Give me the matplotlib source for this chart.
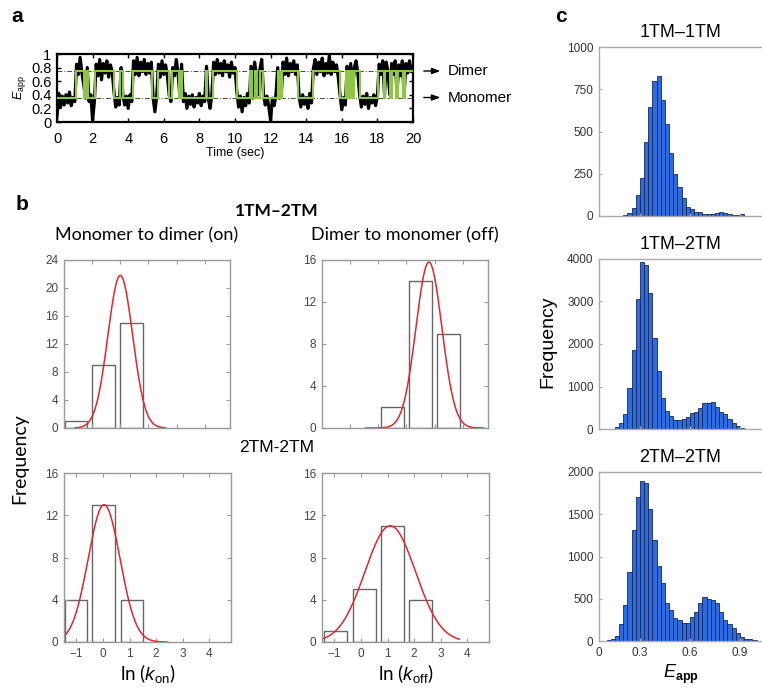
import numpy as np
import matplotlib.pyplot as plt

plt.rcParams['font.family'] = ['Liberation Sans', 'DejaVu Sans']
plt.rcParams['mathtext.fontset'] = 'custom'
plt.rcParams['mathtext.it'] = 'Liberation Sans:italic'
plt.rcParams['mathtext.rm'] = 'Liberation Sans'
plt.rcParams['mathtext.bf'] = 'Liberation Sans:bold'

# ---------------- a: single-molecule FRET trace ----------------
trace_dt = 0.1
e_app = [
    0.08, 0.42, 0.22, 0.38, 0.25, 0.40, 0.28, 0.44, 0.24, 0.36,
    0.30, 0.85, 0.70, 0.95, 0.72, 0.55, 0.35, 0.80, 0.30, 0.40,
    0.02, 0.30, 0.85, 0.68, 0.92, 0.62, 0.86, 0.72, 0.90, 0.66,
    0.84, 0.74, 0.45, 0.22, 0.36, 0.25, 0.80, 0.40, 0.25, 0.38,
    0.20, 0.40, 0.30, 0.90, 0.70, 0.95, 0.68, 0.88, 0.74, 0.92,
    0.70, 0.86, 0.72, 0.88, 0.35, 0.15, 0.38, 0.85, 0.66, 0.90,
    0.70, 0.84, 0.68, 0.40, 0.30, 0.80, 0.68, 0.92, 0.72, 0.38,
    0.85, 0.30, 0.42, 0.20, 0.38, 0.26, 0.40, 0.22, 0.36, 0.28,
    0.42, 0.24, 0.38, 0.30, 0.82, 0.35, 0.20, 0.40, 0.88, 0.70,
    0.92, 0.72, 0.86, 0.68, 0.90, 0.74, 0.84, 0.66, 0.88, 0.72,
    0.80, 0.45, 0.22, 0.38, 0.15, 0.36, 0.24, 0.42, 0.28, 0.82,
    0.35, 0.88, 0.70, 0.40, 0.78, 0.92, 0.42, 0.25, 0.38, 0.22,
    0.02, 0.35, 0.24, 0.40, 0.80, 0.35, 0.40, 0.88, 0.70, 0.94,
    0.68, 0.86, 0.74, 0.90, 0.70, 0.84, 0.38, 0.22, 0.40, 0.26,
    0.36, 0.20, 0.42, 0.28, 0.78, 0.92, 0.70, 0.88, 0.74, 0.94,
    0.68, 0.86, 0.72, 0.98, 0.70, 0.88, 0.74, 0.84, 0.66, 0.40,
    0.18, 0.36, 0.25, 0.82, 0.38, 0.86, 0.40, 0.80, 0.90, 0.72,
    0.40, 0.22, 0.38, 0.26, 0.42, 0.20, 0.36, 0.28, 0.40, 0.24,
    0.38, 0.85, 0.70, 0.90, 0.40, 0.88, 0.72, 0.40, 0.86, 0.70,
    0.90, 0.42, 0.84, 0.68, 0.90, 0.40, 0.86, 0.72, 0.90, 0.74,
    0.82,
]
# idealised two-state fit: switching times (s), starting in the monomer state
switch_times = [1.08, 1.50, 1.62, 1.72, 2.15, 3.20, 3.55, 3.70, 4.25, 5.35,
                5.65, 6.30, 6.45, 6.85, 6.95, 7.05, 8.35, 8.45, 8.75, 10.10,
                10.85, 10.95, 11.10, 11.25, 11.40, 11.60, 12.40, 12.50, 12.65,
                13.55, 14.40, 15.90, 16.25, 16.35, 16.45, 16.60, 16.70, 17.00,
                18.05, 18.35, 18.45, 18.70, 18.80, 19.05, 19.15, 19.45, 19.55]
monomer_level = 0.36
dimer_level = 0.75
trace_end = 20

# ---------------- b: rate histograms with gaussian fits ----------------
kon_12_centers = [-0.575, 0.41, 1.41]
kon_12_counts = [1, 9, 15]
koff_12_centers = [1.50, 2.49, 3.50]
koff_12_counts = [2, 14, 9]
kon_22_centers = [-1.02, 0.03, 1.09]
kon_22_counts = [4, 13, 4]
koff_22_centers = [-0.95, 0.12, 1.18, 2.24]
koff_22_counts = [1, 5, 11, 4]
# (amplitude, mean, sigma, x_from, x_to)
kon_12_fit = (21.8, 1.00, 0.44, -0.6, 2.6)
koff_12_fit = (15.8, 2.80, 0.46, 0.55, 4.75)
kon_22_fit = (13.0, 0.04, 0.60, -1.47, 2.4)
koff_22_fit = (11.0, 1.10, 0.95, -1.42, 3.7)

# ---------------- c: E_app histograms ----------------
bin_w = 0.025
tm11_start = 0.2
tm11_counts = [5, 20, 45, 124, 222, 437, 646, 800, 827, 685, 547, 370, 248, 173,
               108, 51, 39, 26, 26, 14, 14, 14, 18, 24, 20, 14, 8, 8, 14]
tm12_start = 0.15
tm12_counts = [40, 140, 350, 957, 1870, 3060, 3930, 3850, 3200, 2140, 1365, 720,
               431, 314, 204, 220, 243, 275, 376, 408, 494, 612, 612, 627, 510,
               400, 360, 243, 141, 78, 31, 10]
tm22_start = 0.1
tm22_counts = [10, 20, 63, 198, 427, 822, 1308, 1704, 1893, 1865, 1565, 1198, 889,
               684, 455, 368, 277, 249, 210, 210, 289, 340, 447, 526, 498, 486,
               447, 344, 249, 198, 150, 99, 51, 28, 20, 8]

W, H = 762, 689
fig = plt.figure(figsize=(W / 100, H / 100), dpi=100)


def box(left, top, right, bottom):
    return [left / W, 1 - bottom / H, (right - left) / W, (bottom - top) / H]


def at(x, y):
    return x / W, 1 - y / H


# ---- panel a
ax = fig.add_axes(box(57, 54, 413, 122))
ax.axhline(dimer_level, color='#444444', lw=0.7, ls=(0, (5, 2, 1, 2)), zorder=1)
ax.axhline(monomer_level, color='#444444', lw=0.7, ls=(0, (5, 2, 1, 2)), zorder=1)
t = np.arange(len(e_app)) * trace_dt
ax.plot(t, e_app, color='black', lw=2.3, zorder=2)
edges = [0] + switch_times + [trace_end]
levels = [monomer_level if i % 2 == 0 else dimer_level for i in range(len(edges) - 1)]
ax.stairs(levels, edges, baseline=None, color='#8dc63f', lw=1.5, zorder=3)
ax.set_xlim(0, 20)
ax.set_ylim(0, 1)
ax.set_xticks(range(0, 21, 2))
ax.set_yticks([0, 0.2, 0.4, 0.6, 0.8, 1])
ax.set_yticklabels(['0', '0.2', '0.4', '0.6', '0.8', '1'])
ax.tick_params(direction='in', length=3, width=1, top=True, right=True,
               labelsize=10.5)
ax.tick_params(axis='x', pad=7)
ax.tick_params(axis='y', pad=4)
for s in ax.spines.values():
    s.set_linewidth(1.6)
ax.set_xlabel('Time (sec)', fontsize=9, labelpad=1)
ax.set_ylabel(r'$E_{\mathrm{app}}$', fontsize=9, labelpad=2)
for lvl, name in [(dimer_level, 'Dimer'), (monomer_level, 'Monomer')]:
    ax.annotate('', xy=(21.7, lvl), xytext=(20.45, lvl), annotation_clip=False,
                arrowprops=dict(arrowstyle='-|>,head_length=0.5,head_width=0.18',
                                color='black', lw=1.0))
    ax.text(21.95, lvl, name, fontsize=11, va='center', ha='left')

for letter, (x, y) in [('a', (17, 17)), ('b', (22, 205)), ('c', (561, 17))]:
    fig.text(*at(x, y), letter, fontsize=15, weight='bold', ha='center', va='center')

# ---- panel b
label_font = ['Lato', 'DejaVu Sans']


def rate_panel(rect, centers, counts, width, fit, xlim, xticks, ymax, show_x):
    a = fig.add_axes(rect)
    a.bar(centers, counts, width=width, facecolor='white', edgecolor='#666666', lw=1.0)
    amp, mu, sig, x0, x1 = fit
    xs = np.linspace(x0, x1, 200)
    a.plot(xs, amp * np.exp(-0.5 * ((xs - mu) / sig) ** 2), color='#e3262c', lw=1.1)
    a.set_xlim(*xlim)
    a.set_ylim(0, ymax)
    a.set_xticks(xticks)
    a.set_yticks(range(0, ymax + 1, 4))
    a.tick_params(direction='in', length=3, color='#999999', top=True, right=True,
                  labelsize=8.5, labelcolor='#444444', pad=4)
    if not show_x:
        a.set_xticklabels([])
    for s in a.spines.values():
        s.set_color('#999999')
        s.set_linewidth(1.0)
    return a


top_xlim, top_ticks = (-1.0, 4.9), [0, 1, 2, 3, 4]
bot_xlim, bot_ticks = (-1.47, 4.82), [-1, 0, 1, 2, 3, 4]
rate_panel(box(64, 260, 230, 428), kon_12_centers, kon_12_counts, 0.81, kon_12_fit,
           top_xlim, top_ticks, 24, False)
rate_panel(box(322, 260, 488, 428), koff_12_centers, koff_12_counts, 0.81, koff_12_fit,
           top_xlim, top_ticks, 16, False)
ab1 = rate_panel(box(64, 473, 231, 642), kon_22_centers, kon_22_counts, 0.86, kon_22_fit,
                 bot_xlim, bot_ticks, 16, True)
ab2 = rate_panel(box(322, 473, 489, 642), koff_22_centers, koff_22_counts, 0.86,
                 koff_22_fit, bot_xlim, bot_ticks, 16, True)
ab1.set_xlabel(r'ln ($k_{\mathrm{on}}$)', fontsize=13.5, family=label_font, labelpad=2)
ab2.set_xlabel(r'ln ($k_{\mathrm{off}}$)', fontsize=13.5, family=label_font, labelpad=2)

fig.text(*at(277, 211), '1TM–2TM', fontsize=12.5, family=label_font, weight='bold',
         ha='center', va='center')
fig.text(*at(277, 448), '2TM-2TM', fontsize=12.5, ha='center', va='center')
fig.text(*at(147, 235), 'Monomer to dimer (on)', fontsize=13, family=label_font,
         ha='center', va='center')
fig.text(*at(405, 235), 'Dimer to monomer (off)', fontsize=13, family=label_font,
         ha='center', va='center')
fig.text(*at(20, 459), 'Frequency', fontsize=14, family=label_font, rotation=90,
         ha='center', va='center')

# ---- panel c
c_xmin, c_xmax = 0.055, 1.032


def ehist(rect, start, counts, ymax, step, title, show_x):
    a = fig.add_axes(rect)
    lefts = start + bin_w * np.arange(len(counts))
    a.bar(lefts, counts, width=bin_w, align='edge', facecolor='#2d6be0',
          edgecolor='#14285e', lw=0.6)
    a.set_xlim(c_xmin, c_xmax)
    a.set_ylim(0, ymax)
    a.set_yticks(range(0, ymax + 1, step))
    a.set_xticks([c_xmin, 0.3, 0.6, 0.9])
    if show_x:
        a.set_xticklabels(['0', '0.3', '0.6', '0.9'])
    else:
        a.set_xticklabels([])
    a.tick_params(direction='in', length=2, color='#aaaaaa', labelsize=8.5,
                  labelcolor='#333333', pad=4)
    a.spines['right'].set_visible(False)
    for s in a.spines.values():
        s.set_color('#aaaaaa')
        s.set_linewidth(1.0)
    a.set_title(title, fontsize=13, pad=7)
    return a


ehist(box(599, 47, 762, 216), tm11_start, tm11_counts, 1000, 250, '1TM–1TM', False)
ehist(box(599, 259, 762, 429), tm12_start, tm12_counts, 4000, 1000, '1TM–2TM', False)
ac3 = ehist(box(599, 472, 762, 641), tm22_start, tm22_counts, 2000, 500, '2TM–2TM', True)
ac3.set_xlabel(r'$E_{\mathbf{app}}$', fontsize=13, labelpad=3)
fig.text(*at(548, 342), 'Frequency', fontsize=14, rotation=90, ha='center', va='center')

fig.savefig('out.png', dpi=100)
